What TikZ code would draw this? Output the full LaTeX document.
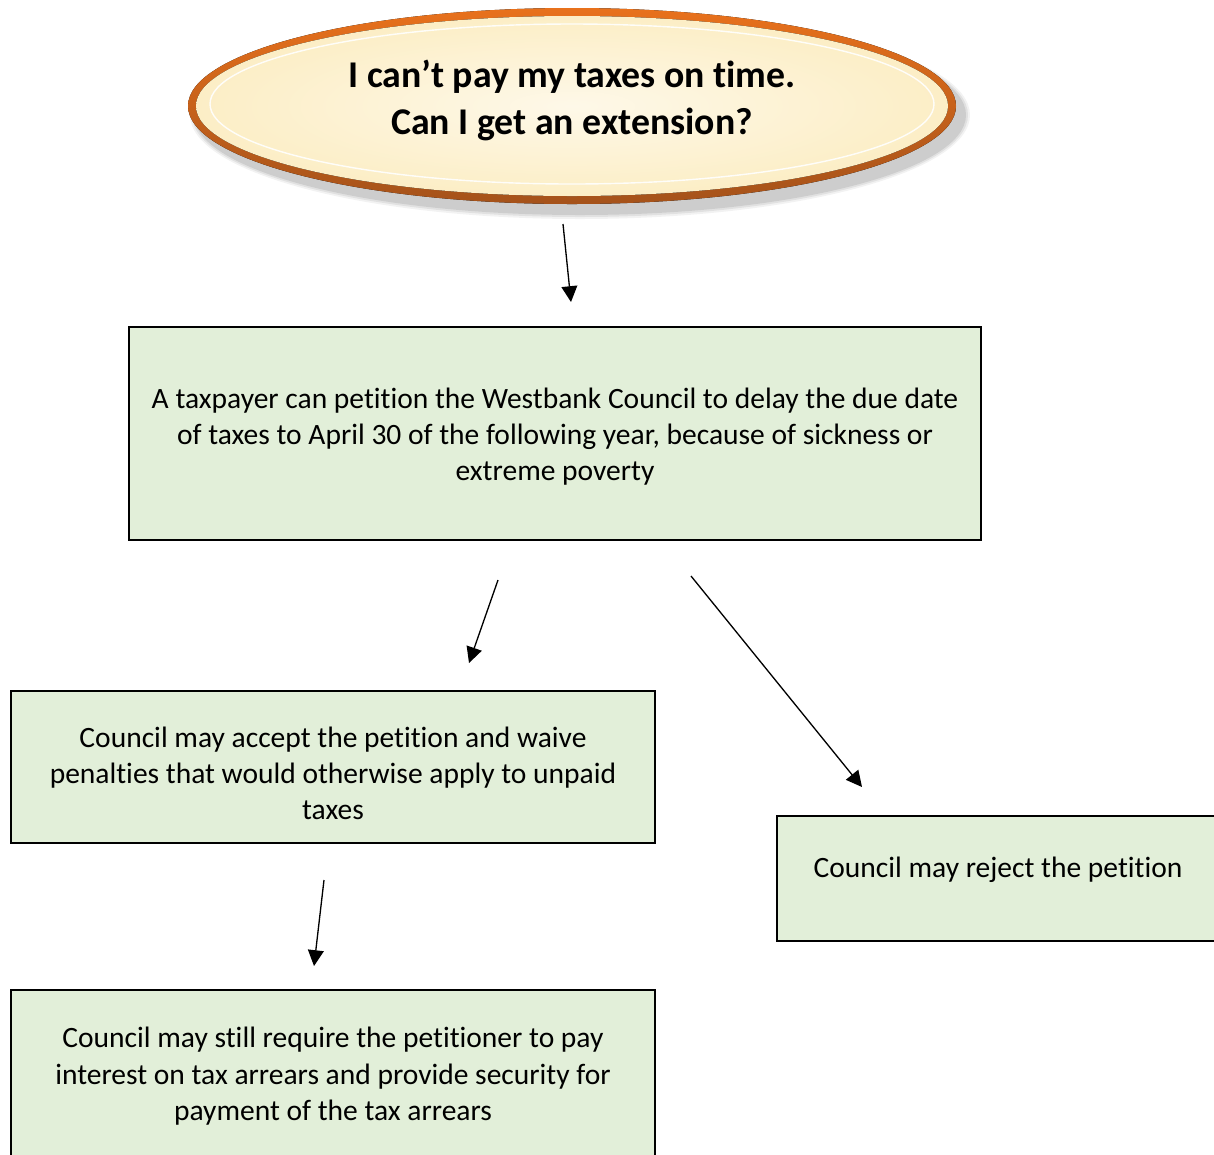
\documentclass[tikz,border=0pt]{standalone}
\usepackage{fontspec}
\setmainfont{Carlito}[Ligatures=NoCommon]
\usepackage{tikz}
\usetikzlibrary{arrows.meta,positioning,shapes.geometric}
\definecolor{boxgreen}{HTML}{E2EFD9}
\definecolor{qcream}{HTML}{FCEEC6}
\definecolor{qorange}{HTML}{E8711C}
\definecolor{qbrown}{HTML}{A5521A}

\begin{document}
\begin{tikzpicture}[x=0.02cm,y=-0.02cm,
  box/.style={draw=black,line width=1.3pt,fill=boxgreen,align=center,
    font=\fontsize{16.8}{20.6}\selectfont,inner sep=0pt},
  qtext/.style={align=center,font=\fontsize{21.5}{26.3}\selectfont\bfseries},
  arr/.style={-{Triangle[length=9pt,width=9pt]},line width=0.75pt}]
\useasboundingbox (0,0) rectangle (1214,1154);
% question oval
\foreach \s/\o in {12/.05,8/.07,4/.09}
  \fill[black,opacity=\o] (580,115) ellipse [x radius=384+\s/2, y radius=98+\s/2];
\fill[top color=qorange,bottom color=qbrown] (572,106) ellipse [x radius=384, y radius=98];
\fill[inner color=qcream!40!white,outer color=qcream] (572,106) ellipse [x radius=376, y radius=90];
\draw[white,line width=0.8pt,opacity=.9] (572,104) ellipse [x radius=362, y radius=80];
\node[qtext] (q) at (572,100.5) {I can’t pay my taxes on time.\\Can I get an extension?};
% boxes
\node[box,minimum width=852*0.02cm,minimum height=213*0.02cm] (petition) at (555,433.5)
  {\rule{0pt}{15.3pt}A taxpayer can petition the Westbank Council to delay the due date\\
   of taxes to April 30 of the following year, because of sickness or\\
   extreme poverty};
\node[box,minimum width=644*0.02cm,minimum height=152*0.02cm] (accept) at (333,767)
  {\rule{0pt}{18.7pt}Council may accept the petition and waive\\
   penalties that would otherwise apply to unpaid\\
   taxes};
\node[box,minimum width=442*0.02cm,minimum height=125*0.02cm,text depth=0.45cm] (reject) at (998,878.5)
  {Council may reject the petition};
\node[box,minimum width=644*0.02cm,minimum height=168*0.02cm] (interest) at (333,1074)
  {\rule{0pt}{14.2pt}Council may still require the petitioner to pay\\
   interest on tax arrears and provide security for\\
   payment of the tax arrears};
% arrows
\coordinate (a1) at (563,224); \coordinate (a1e) at (571,302);
\coordinate (a2) at (498,580); \coordinate (a2e) at (469,663);
\coordinate (a3) at (691,576); \coordinate (a3e) at (862,787);
\coordinate (a4) at (324,880); \coordinate (a4e) at (314,966);
\path[arr]
(a1) edge (a1e)
(a2) edge (a2e)
(a3) edge (a3e)
(a4) edge (a4e);
\end{tikzpicture}
\end{document}
